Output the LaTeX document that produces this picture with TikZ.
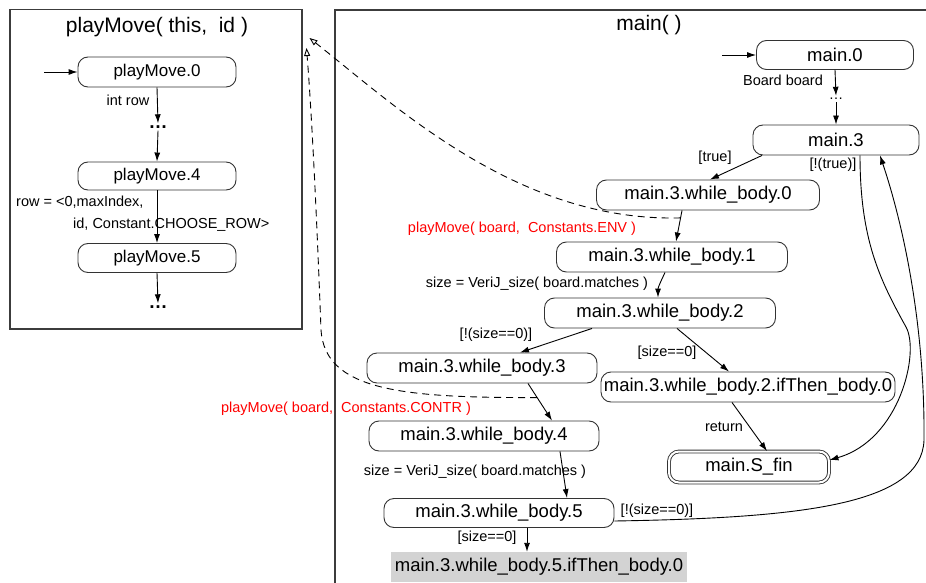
\documentclass[tikz,border=0pt]{standalone}
\usepackage{fontspec}
\setmainfont{Liberation Sans}
\usetikzlibrary{arrows.meta}
\newcommand\ndfont{\fontsize{18.5}{21}\selectfont}
\newcommand\pmfont{\fontsize{17}{20}\selectfont}
\newcommand\lbfont{\fontsize{14.5}{17}\selectfont}
\newcommand\ttlfont{\fontsize{21}{24}\selectfont}
\definecolor{framegray}{HTML}{3C3C3C}
\definecolor{callred}{HTML}{FF0000}
\definecolor{finalfill}{HTML}{D3D3D3}

\begin{document}
\begin{tikzpicture}[x=1pt,y=-1pt,
  state/.style={draw=black!80, rounded corners=10pt, line width=0.9pt,
    minimum height=30pt, inner sep=1pt, font=\ndfont},
  pmstate/.style={state, font=\pmfont},
  lbl/.style={font=\lbfont, inner sep=0pt},
  call/.style={lbl, text=callred},
  flow/.style={draw, line width=0.9pt, -{Latex[length=9pt,width=6pt]}},
  callflow/.style={draw, line width=0.9pt, dash pattern=on 7pt off 5pt,
    -{Triangle[open,length=8pt,width=6pt]}},
  dots/.style={font={\fontsize{19}{20}\selectfont\bfseries}, inner sep=2pt,
    text height=3pt, text depth=0pt},
  smalldots/.style={font=\lbfont, inner sep=2pt, text height=2pt, text depth=0pt},
  frame/.style={draw=framegray, line width=1.5pt},
]
\useasboundingbox (0,0) rectangle (926,583);

% ---------- playMove( this, id ) ----------
\node[frame, minimum width=292pt, minimum height=319pt, inner sep=0pt,
      anchor=north west] (pmbox) at (9,9) {};
\node[font=\ttlfont] (pmtitle) at (157,27) {playMove( this,~ id )};

\coordinate (pmstart) at (44,72);
\node[pmstate, minimum width=158pt] (pm0) at (157,72) {playMove.0};
\node[dots] (pmd1) at (158,127) {\textellipsis};
\node[pmstate, minimum width=158pt, minimum height=28pt] (pm4) at (157,176) {playMove.4};
\node[pmstate, minimum width=158pt, minimum height=29pt] (pm5) at (157,258) {playMove.5};
\node[dots] (pmd2) at (158,307) {\textellipsis};

\draw[flow] (pmstart) -- (pm0.west);
\draw[flow] (pm0.south) -- (pmd1.north);
\draw[flow] (pmd1.south) -- (pm4.north);
\draw[flow] (pm4.south) -- (pm5.north);
\draw[flow] (pm5.south) -- (pmd2.north);

\node[lbl] (lintrow) at (128,100) {int row};
\node[lbl, align=left, anchor=west, font={\fontsize{14.5}{22}\selectfont}]
  (lrow) at (16,214) {row = <0,maxIndex,\\\hspace*{57pt}id, Constant.CHOOSE\_ROW>};

% ---------- main( ) ----------
\draw[frame] (926,10) -- (335,10) -- (335,583);
\node[font=\ttlfont] (mtitle) at (649,25) {main( )};

\coordinate (mstart) at (722,55);
\node[state, minimum width=157pt, minimum height=29pt] (m0) at (835,55) {main.0};
\node[smalldots] (md) at (836,99) {\textellipsis};
\node[state, minimum width=166pt] (m3) at (836,140) {main.3};
\node[state, minimum width=223pt] (wb0) at (708,195) {main.3.while\_body.0};
\node[state, minimum width=231pt] (wb1) at (672,257) {main.3.while\_body.1};
\node[state, minimum width=231pt] (wb2) at (660,313) {main.3.while\_body.2};
\node[state, minimum width=230pt] (wb3) at (482,368) {main.3.while\_body.3};
\node[state, minimum width=294pt] (if2) at (748,387) {main.3.while\_body.2.ifThen\_body.0};
\node[state, double, double distance=2pt, minimum width=160pt, minimum height=31pt]
  (sfin) at (749,467) {main.S\_fin};
\node[state, minimum width=230pt] (wb4) at (484,436) {main.3.while\_body.4};
\node[state, minimum width=230pt, minimum height=29pt] (wb5) at (499,513) {main.3.while\_body.5};
\node[fill=finalfill, minimum width=296pt, minimum height=30pt, inner sep=1pt,
      font=\ndfont] (if5) at (539,567) {main.3.while\_body.5.ifThen\_body.0};

% control flow
\draw[flow] (mstart) -- (m0.west);
\draw[flow] (m0.south) -- (md.north);
\draw[flow] (md.south) -- (m3.north);
\draw[flow] ([xshift=-74pt]m3.south) -- ([xshift=2pt]wb0.north);
\draw[flow] ([xshift=-26pt]wb0.south) -- coordinate[pos=0.24] (callenv) ([xshift=4pt]wb1.north);
\draw[flow] ([xshift=-7pt]wb1.south) to[out=-115,in=90] ([xshift=-2pt]wb2.north);
\draw[flow] ([xshift=-68pt]wb2.south) -- ([xshift=38pt]wb3.north);
\draw[flow] ([xshift=17pt]wb2.south) -- ([xshift=-19pt]if2.north);
\draw[flow] ([xshift=-16pt]if2.south) -- ([xshift=18pt]sfin.north);
\draw[flow] ([xshift=46pt]wb3.south) -- coordinate[pos=0.38] (callcontr) ([xshift=68pt]wb4.north);
\draw[flow] ([xshift=76pt]wb4.south) -- ([xshift=68pt]wb5.north);
\draw[flow] ([xshift=28pt]wb5.south) -- ([xshift=-12pt]if5.north);
\draw[flow] ([yshift=-8pt]wb5.east) .. controls (800,518) and (922,505) .. (924,440)
  .. controls (925,330) and (905,230) .. ([xshift=44pt]m3.south);
\draw[flow] ([xshift=24pt]m3.south) .. controls (860,240) and (880,280) .. (906,327)
  .. controls (920,352) and (900,440) .. ([yshift=7pt]sfin.east);

% calls into playMove
\draw[callflow] (callenv) .. controls (520,222) and (400,110) ..
  ([shift={(7pt,-29pt)}]pmbox.north east);
\draw[callflow] (callcontr) .. controls (400,398) and (325,390) .. (321,330)
  .. controls (318,250) and (313,130) .. ([shift={(4pt,-39pt)}]pmbox.north east);

% edge labels
\node[lbl] (lboard) at (783,80) {Board board};
\node[lbl] (ltrue) at (715,158) {[true]};
\node[lbl] (lnottrue) at (833,165) {[!(true)]};
\node[call] (lenv) at (522,229) {playMove( board,~ Constants.ENV )};
\node[lbl] (lsize1) at (537,284) {size = VeriJ\_size( board.matches )};
\node[lbl] (lnz1) at (496,335) {[!(size==0)]};
\node[lbl] (lz1) at (667,353) {[size==0]};
\node[call] (lcontr) at (346,409) {playMove( board,~ Constants.CONTR )};
\node[lbl] (lret) at (724,427) {return};
\node[lbl] (lsize2) at (475,472) {size = VeriJ\_size( board.matches )};
\node[lbl] (lnz2) at (657,511) {[!(size==0)]};
\node[lbl] (lz2) at (487,538) {[size==0]};
\end{tikzpicture}
\end{document}
